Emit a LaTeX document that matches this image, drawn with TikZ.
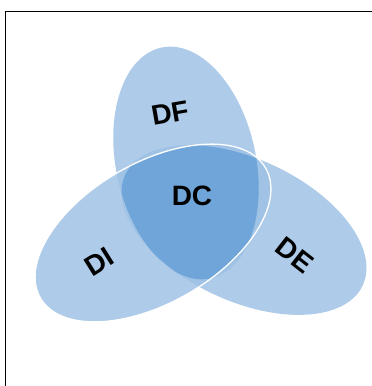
\documentclass[tikz,border=0pt]{standalone}
\usepackage{fontspec}
\setmainfont{Liberation Sans}
\definecolor{petalblue}{RGB}{174,203,233}
\definecolor{mixblue}{RGB}{160,195,229}
\definecolor{coreblue}{RGB}{111,165,216}

\begin{document}
\begin{tikzpicture}[x=1pt,y=1pt,
dfshape/.style={insert path={(186,223) ellipse[x radius=118,y radius=70,rotate=102]}},
deshape/.style={insert path={(244,156) ellipse[x radius=131,y radius=71,rotate=-25]}},
dishape/.style={insert path={(153,153) ellipse[x radius=130,y radius=70,rotate=30]}},
lbl/.style={font=\bfseries\fontsize{28}{30}\selectfont,inner sep=0pt}]
\useasboundingbox (0,0) rectangle (372,386);
\draw[line width=1.2pt] (5.7,0) -- (5.7,374.3) -- (372,374.3);
% the three domains
\fill[petalblue,dfshape];\fill[petalblue,deshape];\fill[petalblue,dishape];
% pairwise overlaps
\begin{scope}\clip[dfshape];\fill[mixblue,dishape];\fill[mixblue,deshape];\end{scope}
\begin{scope}\clip[deshape];\fill[mixblue,dishape];\end{scope}
% common core
\begin{scope}\clip[dfshape];\clip[deshape];\fill[coreblue,dishape];\end{scope}
\draw[white,line width=1.3pt,dishape];
\node[lbl,rotate=10](df) at (170,273){DF};
\node[lbl](dc) at (192,190){DC};
\node[lbl,rotate=32](di) at (99,124){DI};
\node[lbl,rotate=-38](de) at (295,131){DE};
\end{tikzpicture}
\end{document}
